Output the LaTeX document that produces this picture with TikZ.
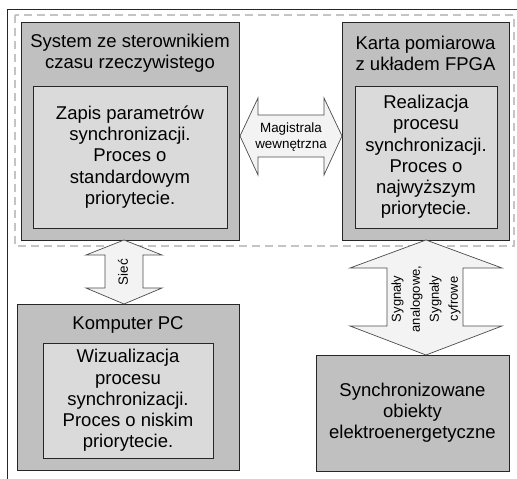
\documentclass[tikz,border=0pt]{standalone}
\usepackage{fontspec}
\setmainfont{Liberation Sans}
\definecolor{boxgray}{HTML}{C0C0C0}
\definecolor{innergray}{HTML}{DADADA}
\definecolor{arrowfill}{HTML}{F3F3F3}
\definecolor{dashcol}{HTML}{C4C4C4}
\begin{document}
\begin{tikzpicture}[x=1pt,y=1pt,
  outerbox/.style={draw=black!85, fill=boxgray, line width=1pt, inner sep=0pt, outer sep=0pt},
  innerbox/.style={draw=black!85, fill=innergray, line width=1pt, inner sep=0pt, outer sep=0pt},
  blockarrow/.style={draw=black!70, fill=arrowfill, line width=0.7pt, line join=miter},
  bigtext/.style={align=center, inner sep=0pt, font=\fontsize{18.5}{21.2}\selectfont},
  smalltext/.style={align=center, inner sep=0pt, font=\fontsize{13.4}{15.6}\selectfont},
  frameline/.style={draw=black!85, line width=0.8pt},
  dashframe/.style={draw=dashcol, line width=1.2pt, dash pattern=on 8pt off 5pt}]
\useasboundingbox (0,0) rectangle (517,-479);
% outer frame
\draw[frameline] (7.5,-479) -- (7.5,-9) -- (517,-9);
% dashed group frame
\draw[dashframe] (15,-15) rectangle (514,-246);
% boxes
\node[outerbox, minimum width=218, minimum height=218] (A) at (130,-131) {};
\node[innerbox, minimum width=194, minimum height=142] (Ai) at (130,-157) {};
\node[outerbox, minimum width=167, minimum height=218] (B) at (425.5,-131) {};
\node[innerbox, minimum width=142, minimum height=142] (Bi) at (426,-157) {};
\node[outerbox, minimum width=222, minimum height=166] (C) at (128,-387) {};
\node[innerbox, minimum width=170, minimum height=115] (Ci) at (128,-400.5) {};
\node[outerbox, minimum width=193, minimum height=116] (D) at (412.5,-413) {};
% texts
\node[bigtext] (At) at (130,-53) {System ze sterownikiem\\czasu rzeczywistego};
\node[bigtext] (Ait) at (Ai) {Zapis parametrów\\synchronizacji.\\Proces o\\standardowym\\priorytecie.};
\node[bigtext] (Bt) at (425.5,-53) {Karta pomiarowa\\z układem FPGA};
\node[bigtext] (Bit) at (Bi) {Realizacja\\procesu\\synchronizacji.\\Proces o\\najwyższym\\priorytecie.};
\node[bigtext] (Ct) at (128,-325) {Komputer PC};
\node[bigtext] (Cit) at (Ci) {Wizualizacja\\procesu\\synchronizacji.\\Proces o niskim\\priorytecie.};
\node[bigtext] (Dt) at (D) {Synchronizowane\\obiekty\\elektroenergetyczne};
% block arrows
\draw[blockarrow] (240,-136) -- (258,-98) -- (258,-115) -- (324,-115) -- (324,-98) -- (342,-136)
  -- (324,-175) -- (324,-157) -- (258,-157) -- (258,-175) -- cycle;
\node[smalltext] (m) at (291,-137) {Magistrala\\wewnętrzna};
\draw[blockarrow] (124,-240) -- (162,-255) -- (143,-255) -- (143,-288) -- (162,-288) -- (124,-304)
  -- (86,-288) -- (105,-288) -- (105,-255) -- (86,-255) -- cycle;
\node[smalltext, rotate=90] (s) at (123,-272) {Sieć};
\draw[blockarrow] (426,-240) -- (502,-268) -- (463,-268) -- (463,-326) -- (502,-326) -- (426,-355)
  -- (350,-326) -- (387,-326) -- (387,-268) -- (350,-268) -- cycle;
\node[smalltext, rotate=90, font=\fontsize{13}{19}\selectfont] (g) at (426,-299) {Sygnały\\analogowe,\\Sygnały\\cyfrowe};
\end{tikzpicture}
\end{document}
